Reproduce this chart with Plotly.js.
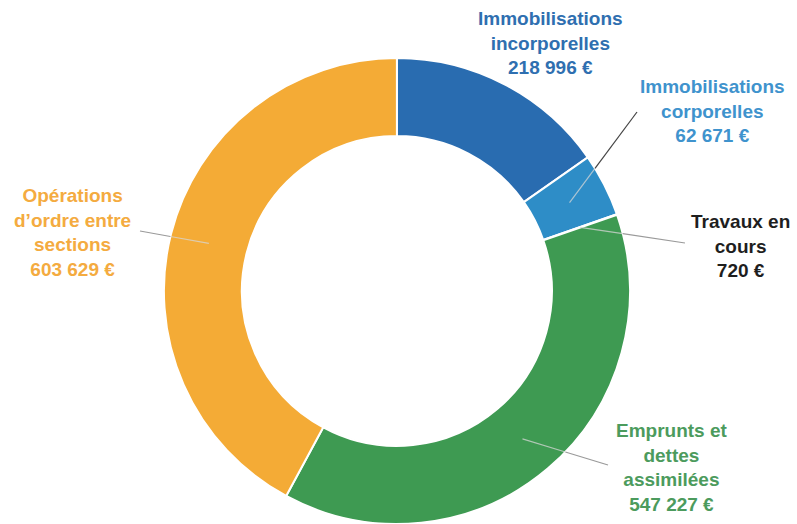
<!DOCTYPE html>
<html>
<head>
<meta charset="utf-8">
<script src="https://cdn.plot.ly/plotly-3.0.1.min.js"></script>
<style>html,body{margin:0;padding:0;background:#fff;}#chart{width:797px;height:524px;}</style>
</head>
<body>
<div id="chart"></div>
<script>
// ---- data ----
const categories = [
  "Immobilisations incorporelles",
  "Immobilisations corporelles",
  "Travaux en cours",
  "Emprunts et dettes assimilées",
  "Opérations d'ordre entre sections"
];
const values = [218996, 62671, 720, 547227, 603629];
const labelTexts = [
  "Immobilisations<br>incorporelles<br>218 996 €",
  "Immobilisations<br>corporelles<br>62 671 €",
  "Travaux en<br>cours<br>720 €",
  "Emprunts et<br>dettes<br>assimilées<br>547 227 €",
  "Opérations<br>d’ordre entre<br>sections<br>603 629 €"
];

// ---- styles / layout ----
const W = 797, H = 524;
const sliceColors = ["#296cb0", "#2e8dc7", "#3e9a52", "#3e9a52", "#f4ab36"];
const textColors = ["#2f6fb0", "#3f93cd", "#1e1e1e", "#4c9b5d", "#f4ab40"];
// label centre positions (px) and leader-line end (px, null = no line)
const labelPos = [[550, 43.5], [712, 111], [740, 246], [672, 467], [72, 232.5]];
const lineEnd = [null, [637, 112], [685, 243], [608, 465], [140, 231]];
const lineColors = [null, "#444444", "#9a9a9a", "#9a9a9a", "#9a9a9a"];

const domY = [0, 466 / H];
const domX = [0.198, 0.798];
const R = 233, hole = 0.665;
const cx = (domX[0] + domX[1]) / 2 * W;
const cy = H - R;

const px = x => x / W;
const py = y => 1 - y / H;

const total = values.reduce((a, b) => a + b, 0);
const shapes = [];
const annotations = [];
let cum = 0;
values.forEach((v, i) => {
  const mid = (cum + v / 2) / total * 2 * Math.PI;
  cum += v;
  annotations.push({
    x: px(labelPos[i][0]), y: py(labelPos[i][1]), xref: "paper", yref: "paper",
    text: labelTexts[i], showarrow: false, align: "center",
    xanchor: "center", yanchor: "middle",
    font: {family: "Liberation Sans, Arial, sans-serif", size: 19, weight: "bold", color: textColors[i]}
  });
  if (lineEnd[i]) {
    const rm = R * (1 + hole) / 2;
    const sx = cx + rm * Math.sin(mid), sy = cy - rm * Math.cos(mid);
    const ex = lineEnd[i][0], ey = lineEnd[i][1];
    const t = (() => {
      const dx = ex - sx, dy = ey - sy, fx = sx - cx, fy = sy - cy;
      const a = dx * dx + dy * dy, b = 2 * (fx * dx + fy * dy), c = fx * fx + fy * fy - R * R;
      const disc = Math.max(0, b * b - 4 * a * c);
      return (-b + Math.sqrt(disc)) / (2 * a);
    })();
    const mx = sx + t * (ex - sx), my = sy + t * (ey - sy);
    shapes.push({type: "line", xref: "paper", yref: "paper",
      x0: px(sx), y0: py(sy), x1: px(mx), y1: py(my),
      line: {color: "rgba(215,215,215,0.75)", width: 1.2}});
    shapes.push({type: "line", xref: "paper", yref: "paper",
      x0: px(mx), y0: py(my), x1: px(ex), y1: py(ey),
      line: {color: lineColors[i], width: 1.2}});
  }
});

const trace = {
  type: "pie",
  labels: categories,
  values: values,
  hole: hole,
  sort: false,
  direction: "clockwise",
  rotation: 0,
  textinfo: "none",
  hoverinfo: "label+value",
  marker: {colors: sliceColors, line: {color: "#ffffff", width: 2}},
  domain: {x: domX, y: domY},
  showlegend: false
};

const layout = {
  width: W, height: H,
  margin: {l: 0, r: 0, t: 0, b: 0},
  paper_bgcolor: "#ffffff",
  plot_bgcolor: "#ffffff",
  showlegend: false,
  shapes: shapes,
  annotations: annotations
};

Plotly.newPlot("chart", [trace], layout, {displayModeBar: false, staticPlot: true});
</script>
</body>
</html>
